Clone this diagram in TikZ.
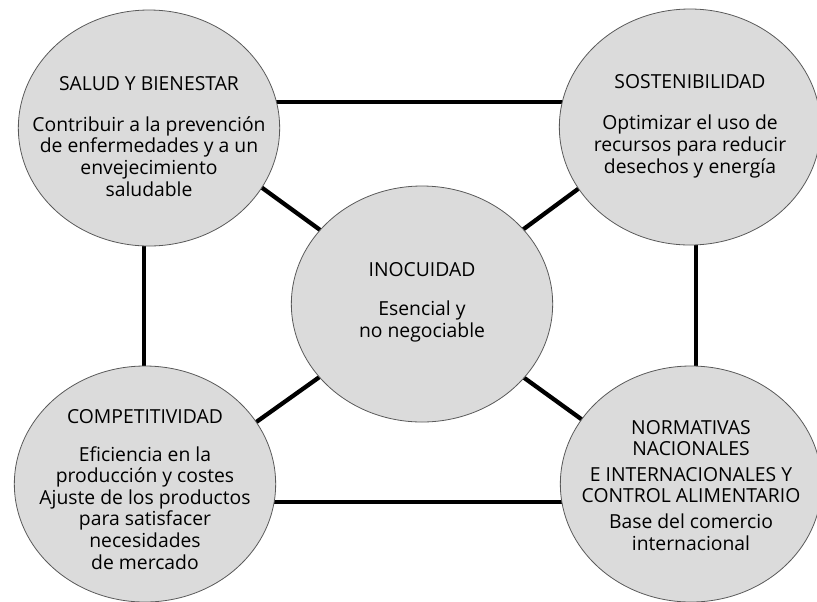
\documentclass[tikz,border=0pt]{standalone}
\usepackage{fontspec}
\setmainfont{Open Sans}
\usetikzlibrary{shapes.geometric,backgrounds}

\begin{document}
\begin{tikzpicture}[x=0.75pt, y=-0.75pt,
		bubble/.style={ellipse, draw=black!65, line width=0.6pt, fill=black!14,
			minimum width=196pt, minimum height=177pt, inner sep=0pt},
		bubbletext/.style={anchor=base, align=center, text=black,
			font=\fontsize{14.5}{16.2}\selectfont},
		frame/.style={line width=2.3pt},
		spoke/.style={line width=3.2pt}]
		\useasboundingbox (0, 0) rectangle (817, 601);

		% five themes
		\node [bubble] (salud) at (149, 128) {};
		\node [bubble] (sosten) at (690, 127) {};
		\node [bubble] (inocuidad) at (422, 304) {};
		\node [bubble] (compet) at (145, 484) {};
		\node [bubble] (normas) at (691, 484) {};

		% texts, placed by the baseline of their last line
		\node [bubbletext] (salud-t) at (149, 196)
			{SALUD Y BIENESTAR\\[14pt] Contribuir a la prevención\\ de enfermedades y a un\\ envejecimiento\\ saludable};
		\node [bubbletext] (sosten-t) at (690, 173)
			{SOSTENIBILIDAD\\[15pt] Optimizar el uso de\\ recursos para reducir\\ desechos y energía};
		\node [bubbletext] (inocuidad-t) at (422, 337)
			{INOCUIDAD\\[13pt] Esencial y\\ no negociable};
		\node [bubbletext] (compet-t) at (145, 569)
			{COMPETITIVIDAD\\[12pt] Eficiencia en la\\ producción y costes\\ Ajuste de los productos\\ para satisfacer\\ necesidades\\ de mercado};
		\node [bubbletext] (normas-t) at (691, 550)
			{NORMATIVAS\\ NACIONALES\\[3pt] E INTERNACIONALES Y\\ CONTROL ALIMENTARIO\\[3pt] Base del comercio\\ internacional};

		% frame and spokes behind the bubbles
		\coordinate (nw) at (144, 102);
		\coordinate (ne) at (696, 102);
		\coordinate (sw) at (144, 502);
		\coordinate (se) at (696, 502);
		\begin{pgfonlayer}{background}
			\draw [frame] (nw) -- (ne) -- (se) -- (sw) -- cycle;
			\foreach \corner in {nw, ne, sw, se}
				\draw [spoke] (\corner) -- (inocuidad.center);
		\end{pgfonlayer}
	\end{tikzpicture}
\end{document}
